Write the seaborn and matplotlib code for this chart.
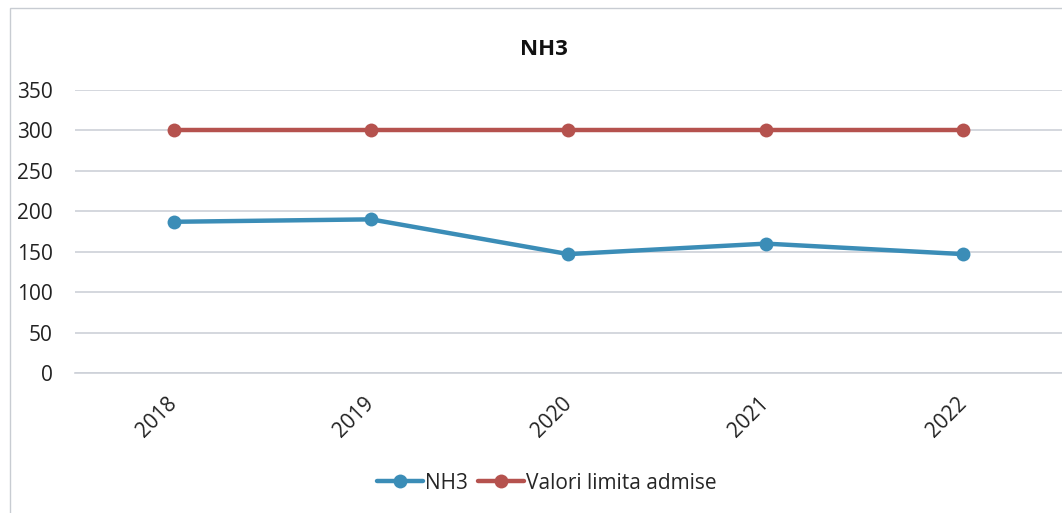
import matplotlib
matplotlib.use("Agg")
import matplotlib.pyplot as plt
import seaborn as sns
import pandas as pd
from matplotlib.patches import Rectangle
from matplotlib.lines import Line2D

years = ["2018", "2019", "2020", "2021", "2022"]
nh3 = [187, 190, 147, 160, 147]
limit = [300, 300, 300, 300, 300]
series_names = ["NH3", "Valori limita admise"]
yticks = [0, 50, 100, 150, 200, 250, 300, 350]

df = pd.DataFrame({
    "year": years * 2,
    "value": nh3 + limit,
    "series": [series_names[0]] * len(years) + [series_names[1]] * len(years),
})

sns.set_theme(style="white")
plt.rcParams['font.family'] = ['Open Sans', 'DejaVu Sans']

fig = plt.figure(figsize=(10.62, 5.13), dpi=100)
ax = fig.add_axes([0.0706, 0.2729, 0.9294, 0.5517])

palette = {series_names[0]: "#3B8DB7", series_names[1]: "#B5524E"}
sns.lineplot(data=df, x="year", y="value", hue="series", palette=palette,
             marker="o", markersize=10, linewidth=3.2, markeredgewidth=0,
             sort=False, ax=ax, legend=False)

ax.set_xlim(-0.5, 4.5)
ax.set_ylim(0, 350)
ax.set_yticks(yticks)
ax.set_yticklabels([str(t) for t in yticks], fontsize=15, color="#222222")
ax.set_xticks(range(len(years)))
ax.set_xticklabels(years, rotation=45, ha="right", va="center",
                   rotation_mode="anchor", fontsize=15, color="#222222")
ax.tick_params(axis="x", pad=20, length=0)
ax.tick_params(axis="y", pad=16, length=0)
ax.yaxis.grid(True, color="#CDD1D8", linewidth=1.2)
for s in ["top", "right", "left"]:
    ax.spines[s].set_visible(False)
ax.spines["bottom"].set_color("#CDD1D8")
ax.spines["bottom"].set_linewidth(1.2)
ax.set_xlabel("")
ax.set_ylabel("")

fig.text(0.512, 0.904, "NH3", ha="center", va="center", fontsize=16,
         fontweight="bold", color="#111111")

handles = [Line2D([], [], color=palette[n], marker="o", markersize=10,
                  linewidth=3.2, markeredgewidth=0) for n in series_names]
fig.legend(handles, series_names, loc="center", bbox_to_anchor=(0.515, 0.058),
           ncol=2, frameon=False, fontsize=15, handlelength=2.2,
           handletextpad=0.1, columnspacing=0.5)

fig.patches.append(Rectangle((0.0094, -0.01), 1.0, 0.995, transform=fig.transFigure,
                             fill=False, edgecolor="#C8CCD2", linewidth=1.0))

fig.savefig("out.png", dpi=100)
